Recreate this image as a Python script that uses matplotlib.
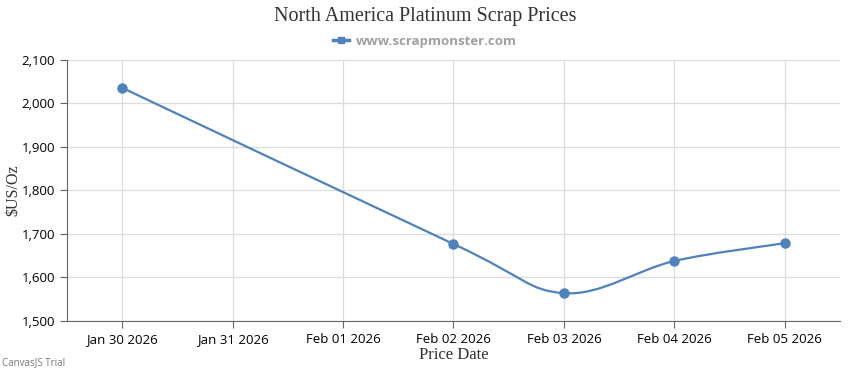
import matplotlib
matplotlib.use("Agg")
import matplotlib.pyplot as plt
from matplotlib.path import Path
from matplotlib.patches import PathPatch
from matplotlib.lines import Line2D
from matplotlib.ticker import FuncFormatter

dates = ["Jan 30 2026", "Jan 31 2026", "Feb 01 2026", "Feb 02 2026",
         "Feb 03 2026", "Feb 04 2026", "Feb 05 2026"]
point_idx = [0, 3, 4, 5, 6]
prices = [2036, 1677, 1564, 1638, 1679]

color = "#4F81BC"

fig = plt.figure(figsize=(8.5, 3.7), dpi=100)
ax = fig.add_axes([67/850, 49/370, (840-67)/850, (321-60)/370])

# Catmull-Rom style spline via Bezier control points
xs, ys = point_idx, prices
n = len(xs)
verts = [(xs[0], ys[0])]
codes = [Path.MOVETO]
t = 6.0
for i in range(n - 1):
    p0 = (xs[i-1], ys[i-1]) if i > 0 else (xs[i], ys[i])
    p1 = (xs[i], ys[i])
    p2 = (xs[i+1], ys[i+1])
    p3 = (xs[i+2], ys[i+2]) if i + 2 < n else p2
    c1 = (p1[0] + (p2[0]-p0[0])/t, p1[1] + (p2[1]-p0[1])/t)
    c2 = (p2[0] - (p3[0]-p1[0])/t, p2[1] - (p3[1]-p1[1])/t)
    verts += [c1, c2, p2]
    codes += [Path.CURVE4]*3
ax.add_patch(PathPatch(Path(verts, codes), fill=False, edgecolor=color, lw=1.6, zorder=3))
ax.plot(xs, ys, "o", color=color, ms=6.5, zorder=4)

ax.set_xlim(-0.5, 6.5)
ax.set_ylim(1500, 2100)
ax.set_xticks(range(len(dates)))
ax.set_xticklabels(dates)
ax.set_yticks(range(1500, 2101, 100))
ax.yaxis.set_major_formatter(FuncFormatter(lambda v, p: f"{int(v):,}"))
ax.grid(True, color="#dcdcdc", lw=0.9)
ax.set_axisbelow(True)
for s in ["top", "right"]:
    ax.spines[s].set_visible(False)
ax.spines["left"].set_color("#666666")
ax.spines["bottom"].set_color("#666666")
ax.tick_params(axis="both", length=5, color="#666666", labelsize=9.5,
               labelcolor="#000000")
for lab in ax.get_xticklabels() + ax.get_yticklabels():
    lab.set_family("Open Sans")

ax.set_xlabel("Price Date", family="Liberation Serif", fontsize=12, color="#333333", labelpad=1)
ax.set_ylabel("\\$US/Oz", family="Liberation Serif", fontsize=11.5, color="#333333",
              va="center")
ax.yaxis.set_label_coords((13 - 67) / 773, 0.5)

fig.text(0.5, 1 - 16/370, "North America Platinum Scrap Prices", ha="center", va="center",
         family="Liberation Serif", fontsize=14.5, color="#333333")
h = Line2D([], [], color=color, lw=2.5, marker="s", ms=5)
fig.legend([h], ["www.scrapmonster.com"], loc="center", bbox_to_anchor=(0.5, 1 - 41/370),
           frameon=False, prop={"family": "Open Sans", "weight": "bold", "size": 9.5},
           labelcolor="#a0a0a0", handlelength=1.2, handletextpad=0.5)
fig.text(2/850, 1 - 363/370, "CanvasJS Trial", ha="left", va="center",
         family="Open Sans", fontsize=7, color="#777777")

fig.savefig("out.png", dpi=100, facecolor="white")
